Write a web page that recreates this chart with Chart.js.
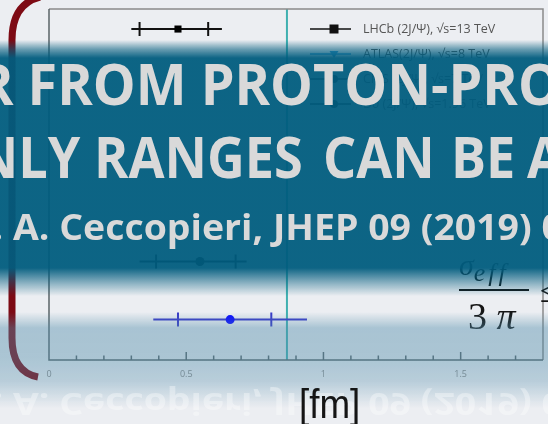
<!DOCTYPE html>
<html>
<head>
<meta charset="utf-8">
<script src="https://cdn.jsdelivr.net/npm/chart.js@4/dist/chart.umd.min.js"></script>
<style>
  html, body { margin: 0; padding: 0; background: #eceef2; overflow: hidden; }
  #wrap { position: relative; width: 548px; height: 424px; overflow: hidden; }
  #plot { position: absolute; left: 0; top: 0; }
  .layer { position: absolute; left: 0; top: 0; width: 548px; height: 424px; pointer-events: none; }
  #haze {
    background: linear-gradient(to bottom,
      rgba(1,92,126,0) 0px, rgba(1,92,126,0) 40px, rgba(1,92,126,0.55) 49px,
      rgba(1,92,126,0.95) 58px, rgba(1,92,126,0.95) 268px, rgba(1,92,126,0.45) 282px,
      rgba(1,92,126,0) 296px, rgba(80,140,170,0) 312px, rgba(80,140,170,0.43) 328px,
      rgba(80,140,170,0.42) 358px, rgba(80,140,170,0.32) 382px, rgba(80,140,170,0) 408px);
  }
  .title { position: absolute; white-space: nowrap; font-family: "Open Sans", sans-serif; font-weight: 700; color: #d9d9d9; transform-origin: 0 0; }
  .big { font-size: 58px; }
  .row2 { top: 116px; transform: scaleX(0.9); }
  .cite { font-size: 36px; transform: scaleX(1.04); }
  .math { position: absolute; white-space: nowrap; font-family: "Liberation Serif", serif; color: #151515; }
</style>
</head>
<body>
<div id="wrap">
  <canvas id="plot" width="548" height="424"></canvas>

  <!-- formula pieces sitting under the banner tint -->
  <div class="math" style="left:459px; top:248px; font-size:30px; font-style:italic;">σ<span style="font-size:26px; position:relative; top:6px; letter-spacing:3px;">eff</span></div>
  <div class="math" style="left:459px; top:289px; width:70px; height:2px; background:#151515;"></div>
  <div class="math" style="left:468px; top:294px; font-size:38px;">3 <i>π</i></div>
  <div class="math" style="left:540px; top:272px; font-size:34px;">≤</div>

  <svg class="layer" viewBox="0 0 548 424">
    <path d="M 40 -3 Q 12 4 12 40 L 12 338 Q 12 372 38 377" fill="none" stroke="#7d0a14" stroke-width="7"/>
  </svg>

  <div id="haze" class="layer"></div>

  <div class="title big" style="left:-22px; top:43px; transform:scaleX(0.93);">R FROM PROTON-PROTON</div>
  <!-- second heading line, word by word -->
  <div class="title big row2" style="right:468px; transform-origin:100% 0;">ONLY</div>
  <div class="title big row2" style="left:94px;">RANGES</div>
  <div class="title big row2" style="left:323px;">CAN</div>
  <div class="title big row2" style="left:451px;">BE</div>
  <div class="title big row2" style="left:527px;">ABOUT</div>
  <div class="title cite" style="left:-28px; top:202px;">F. A. Ceccopieri, JHEP 09 (2019) 035</div>
  <div class="title cite" style="left:-28px; top:380px; color:rgba(255,255,255,0.35); transform:scale(1.04,-0.85); transform-origin:0 50%;">F. A. Ceccopieri, JHEP 09 (2019) 035</div>

  <div class="math" style="left:299px; top:384px; font-size:40px; line-height:1; font-family:'Liberation Sans', sans-serif; transform:scaleX(0.92); transform-origin:0 0;">[fm]</div>
</div>

<script>
// measurements: row on the (hidden) y axis, central value, stat and total ranges
const rows    = [0, 8, 10];
const centers = [0.47, 0.55, 0.66];
const statLo  = [0.33, 0.39, 0.47];
const statHi  = [0.58, 0.68, 0.81];
const totLo   = [0.30, 0.33, 0.38];
const totHi   = [0.63, 0.72, 0.94];
const barColors    = ['#111111', '#111111', '#3838c8'];
const markerColors = ['#000000', '#000000', '#0a0aff'];
const markerStyles = ['rect', 'circle', 'circle'];

const protonRadius = 0.867;

const legendNames   = ['LHCb (2J/Ψ), √s=13 TeV', 'ATLAS(2J/Ψ), √s=8 TeV', 'CMS (2J/Ψ), √s=7 TeV', 'D0 (2J/Ψ), √s=1.96 TeV'];
const legendColors  = ['#111111', '#3a9ad0', '#111111', '#111111'];
const legendMarkers = ['rect', 'triangle', 'circle', 'circle'];

const tickValues = [0, 0.5, 1, 1.5];

const datasets = rows.map((r, i) => ({
  data: [{ x: centers[i], y: r }],
  pointStyle: markerStyles[i],
  pointRadius: markerStyles[i] === 'rect' ? 5 : 4.5,
  backgroundColor: markerColors[i],
  borderColor: markerColors[i],
  borderWidth: 0
}));

function drawMarker(ctx, style, x, y, color) {
  ctx.fillStyle = color;
  ctx.beginPath();
  if (style === 'rect') ctx.rect(x - 4.5, y - 4.5, 9, 9);
  else if (style === 'triangle') { ctx.moveTo(x - 4.5, y - 3); ctx.lineTo(x + 4.5, y - 3); ctx.lineTo(x, y + 4); ctx.closePath(); }
  else ctx.arc(x, y, 4, 0, Math.PI * 2);
  ctx.fill();
}

const framePlugin = {
  id: 'frame',
  beforeDatasetsDraw(chart) {
    const { ctx, chartArea: a, scales: { x, y } } = chart;
    ctx.save();
    // proton radius line
    ctx.strokeStyle = '#3fb0b0';
    ctx.lineWidth = 2;
    const rx = x.getPixelForValue(protonRadius);
    ctx.beginPath(); ctx.moveTo(rx, a.top); ctx.lineTo(rx, a.bottom); ctx.stroke();

    // error bars: total range as line, stat range as end ticks
    rows.forEach((r, i) => {
      const py = y.getPixelForValue(r);
      ctx.strokeStyle = barColors[i];
      ctx.lineWidth = 2;
      ctx.beginPath();
      ctx.moveTo(x.getPixelForValue(totLo[i]), py);
      ctx.lineTo(x.getPixelForValue(totHi[i]), py);
      [statLo[i], statHi[i]].forEach(v => {
        const px = x.getPixelForValue(v);
        ctx.moveTo(px, py - 7); ctx.lineTo(px, py + 7);
      });
      ctx.stroke();
    });
    ctx.restore();
  },
  afterDraw(chart) {
    const { ctx, chartArea: a, scales: { x } } = chart;
    ctx.save();
    // box
    ctx.lineWidth = 1.5;
    ctx.strokeStyle = '#8a8a8a';
    ctx.beginPath();
    ctx.moveTo(a.left, a.top); ctx.lineTo(a.right, a.top); ctx.lineTo(a.right, a.bottom);
    ctx.stroke();
    ctx.strokeStyle = '#5a6468';
    ctx.beginPath();
    ctx.moveTo(a.left, a.top); ctx.lineTo(a.left, a.bottom); ctx.lineTo(a.right, a.bottom);
    ctx.stroke();
    // inward ticks, minor every 0.1
    for (let k = 1; k <= 17; k++) {
      const px = x.getPixelForValue(k / 10);
      const len = k % 5 === 0 ? 8 : 4.5;
      ctx.beginPath(); ctx.moveTo(px, a.bottom); ctx.lineTo(px, a.bottom - len); ctx.stroke();
    }
    // legend
    ctx.font = '12.5px "Open Sans", sans-serif';
    ctx.textBaseline = 'middle';
    legendNames.forEach((name, i) => {
      const ly = a.top + 20 + i * 25;
      ctx.strokeStyle = legendColors[i];
      ctx.lineWidth = 1.5;
      ctx.beginPath(); ctx.moveTo(310, ly); ctx.lineTo(351, ly); ctx.stroke();
      drawMarker(ctx, legendMarkers[i], 334, ly, legendColors[i]);
      ctx.fillStyle = '#555555';
      ctx.fillText(name, 363, ly);
    });
    ctx.restore();
  }
};

new Chart(document.getElementById('plot'), {
  type: 'scatter',
  data: { datasets },
  options: {
    responsive: false,
    animation: false,
    layout: { padding: { left: 49, right: 3, top: 9, bottom: 0 } },
    plugins: { legend: { display: false }, tooltip: { enabled: false } },
    scales: {
      x: {
        type: 'linear', min: 0, max: 1.8,
        grid: { display: false, drawTicks: false },
        border: { display: false },
        afterBuildTicks: s => { s.ticks = tickValues.map(v => ({ value: v })); },
        afterFit: s => { s.height = 64; },
        ticks: {
          padding: 9,
          color: '#8a8a8a',
          font: { family: 'Open Sans', size: 9 },
          maxRotation: 0,
          callback: v => String(v)
        }
      },
      y: { type: 'linear', reverse: true, min: -0.69, max: 11.39, display: false }
    }
  },
  plugins: [framePlugin]
});
</script>
</body>
</html>
